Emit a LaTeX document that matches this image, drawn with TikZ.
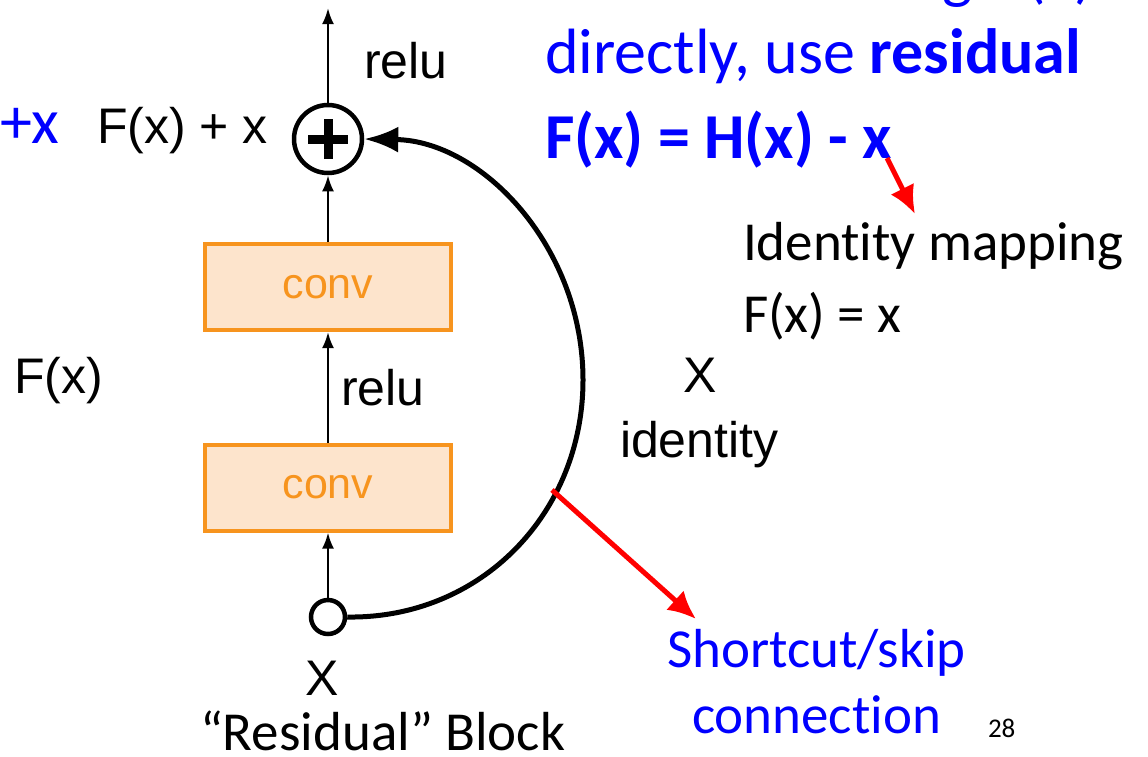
\documentclass[tikz,border=0pt]{standalone}
\usepackage{fontspec}
\usetikzlibrary{arrows.meta}
\newfontfamily\arialfont{Liberation Sans}
\newfontfamily\calfont[Ligatures={NoCommon,NoRare,NoContextual}]{Carlito}
% break the t+i ligature of the font
\newcommand\tinolig{t\kern0pt i}
\definecolor{convorange}{RGB}{247,148,30}
\definecolor{convfill}{RGB}{253,228,204}
\definecolor{slideblue}{RGB}{0,0,255}
\definecolor{slidered}{RGB}{255,0,0}
\begin{document}
\begin{tikzpicture}[x=1pt,y=-1pt,
  lbl/.style={font=\arialfont\fontsize{50}{60}\selectfont, inner sep=0pt, outer sep=0pt},
  cal/.style={font=\calfont\fontsize{55}{66}\selectfont, inner sep=0pt, outer sep=0pt},
  bluetext/.style={cal, text=slideblue, font=\calfont\fontsize{64}{77}\selectfont},
  convbox/.style={draw=convorange, fill=convfill, line width=4pt,
    minimum width=246pt, minimum height=86pt, inner sep=0pt,
    text=convorange, font=\arialfont\fontsize{43}{52}\selectfont},
  sumnode/.style={circle, draw, line width=4.5pt, minimum size=68pt, inner sep=0pt},
  srcnode/.style={circle, draw, line width=4.5pt, minimum size=34pt, inner sep=0pt},
  flow/.style={line width=2.5pt, -{Latex[length=16pt,width=12pt]}},
  skip/.style={line width=5pt, -{Latex[length=34pt,width=26pt]}},
  pointer/.style={draw=slidered, line width=5pt, -{Latex[length=28pt,width=26pt]}}
]
\useasboundingbox (0,0) rectangle (1148,756);
\clip (0,0) rectangle (1148,756);

% block nodes
\node[sumnode] (sum) at (328,139) {};
\draw[line width=9pt] ([xshift=-20pt]sum.center) -- ([xshift=20pt]sum.center);
\draw[line width=9pt] ([yshift=-20pt]sum.center) -- ([yshift=20pt]sum.center);
\node[convbox] (conv2) at (328,287) {\raisebox{-3pt}{conv}};
\node[convbox] (conv1) at (328,487.5) {\raisebox{-3pt}{conv}};
\node[srcnode] (src) at (328,617) {};
\coordinate (out) at (328,8);
\coordinate (bulge) at (583,380);

% main path
\draw[flow] (src.north) -- (conv1.south);
\draw[flow] (conv1.north) -- (conv2.south);
\draw[flow] (conv2.north) -- (sum.south);
\draw[flow] (sum.north) -- (out);

% identity shortcut
\draw[skip] (src.east) .. controls (481,619) and (583,513) .. (bulge)
  .. controls (583,247) and (482,141) .. (sum.east);

% labels of the block
\node[lbl, anchor=base west] (relutop) at (364,78) {relu};
\node[lbl, anchor=base west] (sumlbl) at (97,143) {F(x) + x};
\node[lbl, anchor=base west] (relumid) at (341,405) {relu};
\node[lbl, anchor=base west] (flbl) at (14,393) {F(x)};
\node[lbl, anchor=base] (xid) at (700,392) {X};
\node[lbl, anchor=base west] (idlbl) at (620,457) {identity};
\node[lbl, anchor=base] (xin) at (322,695) {X};

% slide text
\node[bluetext, anchor=base west] (plusx) at (0,143) {+x};
\node[bluetext, anchor=base west] (line0) at (545,-4) {Instead of fit\tinolig ng H(x)};
\node[bluetext, anchor=base west] (line1) at (545,73) {directly, use \textbf{residual}};
\node[bluetext, anchor=base west] (line2) at (545,158) {\textbf{F(x) = H(x) - x}};
\node[cal, anchor=base west] (idmap) at (743,260) {Iden\tinolig ty mapping};
\node[cal, anchor=base west] (idfx) at (743,332) {F(x) = x};
\node[cal, text=slideblue, anchor=base west] (sc1) at (667,667) {Shortcut/skip};
\node[cal, text=slideblue, anchor=base west] (sc2) at (692,733) {connec\tinolig on};
\node[cal, font=\calfont\fontsize{27}{32}\selectfont, anchor=base west] (pg) at (988,737) {28};
\node[cal, font=\calfont\fontsize{55}{66}\selectfont, anchor=base west] (title) at (200,750) {“Residual” Block};

% red pointers
\coordinate (p1s) at (887,158);
\coordinate (p1e) at (915,214);
\coordinate (p2s) at (552,490);
\coordinate (p2e) at (696,619);
\draw[pointer] (p1s) -- (p1e);
\draw[pointer] (p2s) -- (p2e);
\end{tikzpicture}
\end{document}
